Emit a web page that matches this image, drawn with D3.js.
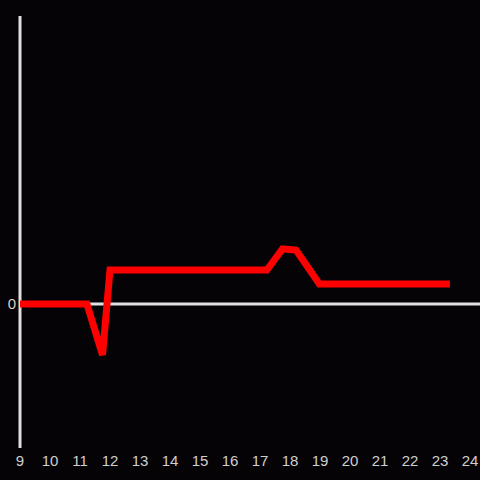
<!DOCTYPE html>
<html>
<head>
<meta charset="utf-8">
<script src="https://cdn.jsdelivr.net/npm/d3@7"></script>
<style>
  html, body { margin: 0; padding: 0; background: #050306; }
  text { font-family: "Liberation Sans", Arial, sans-serif; }
</style>
</head>
<body>
<div id="chart"></div>
<script>
// Series (hour of day, value)
const hours = [9, 11.23, 11.75, 12.0, 17.23, 17.75, 18.2, 18.98, 23.33];
const values = [0, 0, -51, 34, 34, 55, 54, 20, 20];
const xTicks = d3.range(9, 25);
const yTicks = [0];

const W = 480, H = 480;
const x = d3.scaleLinear().domain([9, 24]).range([20, 470]);
const y = d3.scaleLinear().domain([-144, 288]).range([448, 16]);

const svg = d3.select('#chart').append('svg')
  .attr('width', W).attr('height', H);

svg.append('rect').attr('width', W).attr('height', H).attr('fill', '#050306');

// Y axis line
svg.append('line')
  .attr('x1', x(9)).attr('x2', x(9))
  .attr('y1', y(288)).attr('y2', y(-144))
  .attr('stroke', '#e0e0e0').attr('stroke-width', 3);

// zero line
svg.append('line')
  .attr('x1', x(9)).attr('x2', W)
  .attr('y1', y(0)).attr('y2', y(0))
  .attr('stroke', '#e0e0e0').attr('stroke-width', 3);

// Y tick labels
svg.selectAll('.ylab').data(yTicks).enter().append('text')
  .attr('class', 'ylab')
  .attr('x', 16).attr('y', d => y(d))
  .attr('dy', '0.35em')
  .attr('text-anchor', 'end')
  .attr('fill', '#d0d0d0').style('font-size', '15px')
  .text(d => d);

// X tick labels
svg.selectAll('.xlab').data(xTicks).enter().append('text')
  .attr('class', 'xlab')
  .attr('x', d => x(d)).attr('y', 466)
  .attr('text-anchor', 'middle')
  .attr('fill', '#d0d0d0').style('font-size', '15px')
  .text(d => d);

// Series line
const data = hours.map((h, i) => ({ h, v: values[i] }));
svg.append('path')
  .datum(data)
  .attr('fill', 'none')
  .attr('stroke', '#ff0000')
  .attr('stroke-width', 7)
  .attr('d', d3.line().x(d => x(d.h)).y(d => y(d.v)));
</script>
</body>
</html>
